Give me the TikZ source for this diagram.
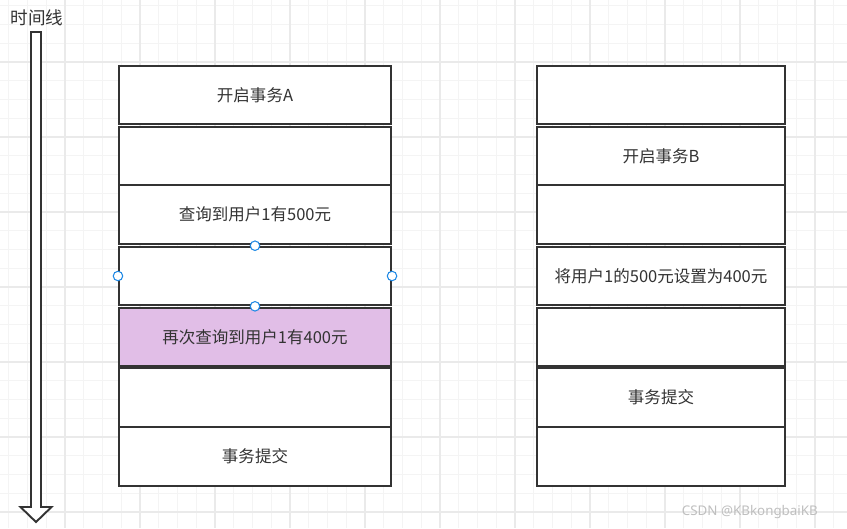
\documentclass[tikz,border=0pt]{standalone}
\usepackage{fontspec}
\setmainfont{Noto Sans CJK SC}
\newfontfamily\markfont{Noto Sans}
\usepackage{tikz}
\usepackage{xcolor}
\usetikzlibrary{positioning, calc}
\definecolor{cLine}{RGB}{51,51,51}
\definecolor{cText}{RGB}{51,51,51}
\definecolor{cPurple}{RGB}{225,190,231}
\definecolor{cHandle}{RGB}{30,136,229}
\definecolor{cGridMinor}{RGB}{244,244,244}
\definecolor{cGridMajor}{RGB}{234,234,234}
\tikzset{
	cell/.style     ={rectangle, draw=cLine, line width=1.2pt, fill=white, minimum height=1.17cm, text=cText, align=center, inner sep=0pt},
	cellA/.style    ={cell, minimum width=5.44cm},
	cellB/.style    ={cell, minimum width=4.96cm},
	handle/.style   ={circle, draw=cHandle, fill=white, line width=0.6pt, minimum size=0.19cm, inner sep=0pt},
	timeline/.style ={draw=cLine, line width=1.1pt, fill=white, line join=miter},
}

\begin{document}
\begin{tikzpicture}[x=0.02cm, y=-0.02cm, font=\fontsize{9.4pt}{11pt}\selectfont]
	\useasboundingbox (0,0) rectangle (847,528);
	\fill[white] (0,0) rectangle (847,528);
	% grid
	\foreach \i in {0,...,45} {
		\draw[cGridMinor, line width=0.5pt] (8.75+18.75*\i,0) -- (8.75+18.75*\i,528);
	}
	\foreach \i in {0,...,28} {
		\draw[cGridMinor, line width=0.5pt] (0,5.75+18.75*\i) -- (847,5.75+18.75*\i);
	}
	\foreach \i in {0,...,11} {
		\draw[cGridMajor, line width=0.6pt] (65+75*\i-75,0) -- (65+75*\i-75,528);
	}
	\foreach \i in {0,...,7} {
		\draw[cGridMajor, line width=0.6pt] (0,62+75*\i-75) -- (847,62+75*\i-75);
	}
	% time axis
	\node[text=cText, font=\fontsize{10pt}{12pt}\selectfont] (tlabel) at (37,18) {时间线};
	\coordinate (ttop) at (36,32);
	\coordinate (ttip) at (36,522);
	\draw[timeline] ($(ttop)+(-5,0)$) -- ($(ttop)+(5,0)$) -- ($(ttip)+(5,-15)$) -- ($(ttip)+(15.5,-15)$)
		-- (ttip) -- ($(ttip)+(-15.5,-15)$) -- ($(ttip)+(-5,-15)$) -- cycle;
	% transaction A
	\node[cellA] (a1) at (255,95)    {开启事务A};
	\node[cellA] (a2) at (255,156)   {};
	\node[cellA] (a3) at (255,214.5) {查询到用户1有500元};
	\node[cellA] (a4) at (255,276)   {};
	\node[cellA, fill=cPurple] (a5) at (255,337) {再次查询到用户1有400元};
	\node[cellA] (a6) at (255,397.5) {};
	\node[cellA] (a7) at (255,456.5) {事务提交};
	% transaction B
	\node[cellB] (b1) at (661,95)    {};
	\node[cellB] (b2) at (661,156)   {开启事务B};
	\node[cellB] (b3) at (661,214.5) {};
	\node[cellB] (b4) at (661,276)   {将用户1的500元设置为400元};
	\node[cellB] (b5) at (661,337)   {};
	\node[cellB] (b6) at (661,397.5) {事务提交};
	\node[cellB] (b7) at (661,456.5) {};
	% selection handles
	\node[handle] (hn) at (a4.north) {};
	\node[handle] (hw) at (a4.west)  {};
	\node[handle] (he) at (a4.east)  {};
	\node[handle] (hs) at (a4.south) {};
	% watermark
	\node[text=gray!50, font=\markfont\fontsize{7.6pt}{9pt}\selectfont, anchor=east] (mark) at (824,512) {CSDN @KBkongbaiKB};
\end{tikzpicture}
\end{document}
